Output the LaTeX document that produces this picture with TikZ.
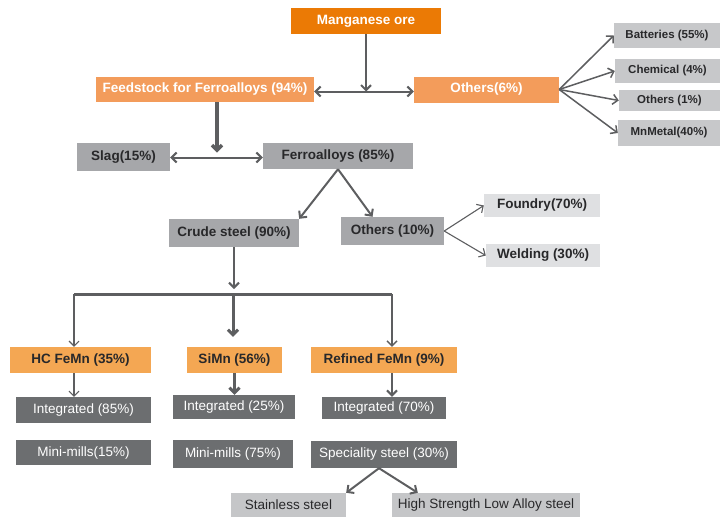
\documentclass[tikz,border=0pt]{standalone}
\usepackage{fontspec}
\setmainfont{Liberation Sans}
\usetikzlibrary{arrows.meta}
\definecolor{oreorange}{RGB}{235,122,5}
\definecolor{feedorange}{RGB}{243,156,91}
\definecolor{alloyorange}{RGB}{244,167,83}
\definecolor{midgrey}{RGB}{166,167,170}
\definecolor{sidegrey}{RGB}{199,200,202}
\definecolor{palegrey}{RGB}{223,224,226}
\definecolor{deepgrey}{RGB}{108,110,112}
\definecolor{steelgrey}{RGB}{197,198,200}
\definecolor{linegrey}{RGB}{93,94,96}
\definecolor{inkgrey}{RGB}{40,40,42}
\tikzset{
  bx/.style={inner sep=0pt, align=center, font=\fontsize{13.5}{15}\selectfont\bfseries, text=inkgrey},
  ore/.style={bx, fill=oreorange, text=white},
  feed/.style={bx, fill=feedorange, text=white},
  alloy/.style={bx, fill=alloyorange},
  mid/.style={bx, fill=midgrey},
  side/.style={bx, fill=sidegrey, font=\fontsize{11.5}{13}\selectfont\bfseries},
  pale/.style={bx, fill=palegrey},
  deep/.style={bx, fill=deepgrey, text=white, font=\fontsize{13.5}{15}\selectfont},
  stl/.style={bx, fill=steelgrey, font=\fontsize{13.5}{15}\selectfont},
  tip/.style={-{Straight Barb[length=5pt,width=10pt]}, draw=linegrey, line width=2pt},
  dtip/.style={{Straight Barb[length=5pt,width=10pt]}-{Straight Barb[length=5pt,width=10pt]}, draw=linegrey, line width=2pt},
  thintip/.style={tip, line width=1.1pt},
  heavytip/.style={tip, line width=3.5pt}
}
\begin{document}
\begin{tikzpicture}[x=1pt, y=-1pt]
  \useasboundingbox (0,0) rectangle (720,517);
  \node[ore, minimum width=150, minimum height=26] (ore) at (366,21) {Manganese ore};
  \node[feed, minimum width=218, minimum height=25] (feed) at (205,89.5) {Feedstock for Ferroalloys (94\%)};
  \node[feed, minimum width=145, minimum height=26] (oth6) at (486.5,89.5) {Others(6\%)};
  \node[side, minimum width=106, minimum height=25] (batt) at (667,35.5) {Batteries (55\%)};
  \node[side, minimum width=105, minimum height=24] (chem) at (667.5,71) {Chemical (4\%)};
  \node[side, minimum width=101, minimum height=21] (oth1) at (669.5,100.5) {Others (1\%)};
  \node[side, minimum width=102, minimum height=26] (mnm) at (669,133) {MnMetal(40\%)};
  \node[mid, minimum width=93, minimum height=28] (slag) at (123.5,157) {Slag(15\%)};
  \node[mid, minimum width=150, minimum height=26] (ferro) at (338,156) {Ferroalloys (85\%)};
  \node[mid, minimum width=130, minimum height=28] (crude) at (234,233) {Crude steel (90\%)};
  \node[mid, minimum width=103, minimum height=28] (oth10) at (392.5,231) {Others (10\%)};
  \node[pale, minimum width=116, minimum height=23] (foundry) at (542,205.5) {Foundry(70\%)};
  \node[pale, minimum width=114, minimum height=23] (welding) at (543,255.5) {Welding (30\%)};
  \node[alloy, minimum width=141, minimum height=26] (hc) at (80.5,360) {HC FeMn (35\%)};
  \node[alloy, minimum width=95, minimum height=26] (simn) at (234.5,360) {SiMn (56\%)};
  \node[alloy, minimum width=146, minimum height=26] (refd) at (384,360) {Refined FeMn (9\%)};
  \node[deep, minimum width=135, minimum height=26] (int85) at (83.5,410) {Integrated (85\%)};
  \node[deep, minimum width=122, minimum height=24] (int25) at (234,407) {Integrated (25\%)};
  \node[deep, minimum width=124, minimum height=22] (int70) at (384,408) {Integrated (70\%)};
  \node[deep, minimum width=135, minimum height=25] (mm15) at (83.5,452.5) {Mini-mills(15\%)};
  \node[deep, minimum width=120, minimum height=28] (mm75) at (233,454) {Mini-mills (75\%)};
  \node[deep, minimum width=146, minimum height=27] (spec) at (384,454.5) {Speciality steel (30\%)};
  \node[stl, minimum width=115, minimum height=24] (stain) at (288.5,505) {Stainless steel};
  \node[stl, minimum width=188, minimum height=24] (hsla) at (486,505) {High Strength Low Alloy steel};

  \coordinate (fsplit) at (217,157.5);
  \coordinate (barL) at (74,294);
  \coordinate (barM) at (233,294);
  \coordinate (barR) at (392,294);

  \draw[tip] (ore.south) -- ([yshift=-2pt]ore.south |- feed.east);
  \draw[dtip] ([yshift=-2pt]feed.east) -- ([yshift=-2pt]oth6.west);
  \foreach \t in {batt,chem,oth1,mnm}
    \draw[thintip, line width=1.5pt] (oth6.east) -- (\t.west);
  \draw[heavytip] (feed.south -| fsplit) -- ([yshift=5pt]fsplit);
  \draw[dtip] (slag.east |- fsplit) -- (ferro.west |- fsplit);
  \draw[tip] (ferro.south) -- (crude.north east);
  \draw[tip] (ferro.south) -- ([xshift=-20pt]oth10.north);
  \draw[thintip] (oth10.east) -- (foundry.west);
  \draw[thintip] (oth10.east) -- (welding.west);
  \draw[tip] (crude.south) -- ([yshift=5pt]crude.south |- barM);
  \draw[draw=linegrey, line width=3pt] (barL) -- (barR);
  \draw[thintip] (barL) -- (barL |- hc.north);
  \draw[heavytip, line width=3pt] (barM) -- ([yshift=10pt]barM |- simn.north);
  \draw[thintip, line width=1.4pt] (barR) -- (barR |- refd.north);
  \draw[thintip] (barL |- hc.south) -- (barL |- int85.north);
  \draw[heavytip, line width=3pt] (simn.south) -- (simn.south |- int25.north);
  \draw[tip] (barR |- refd.south) -- (barR |- int70.north);
  \draw[tip] ([xshift=-5pt]spec.south) -- (stain.north east);
  \draw[tip] ([xshift=-5pt]spec.south) -- ([xshift=26pt]hsla.north west);
\end{tikzpicture}
\end{document}
